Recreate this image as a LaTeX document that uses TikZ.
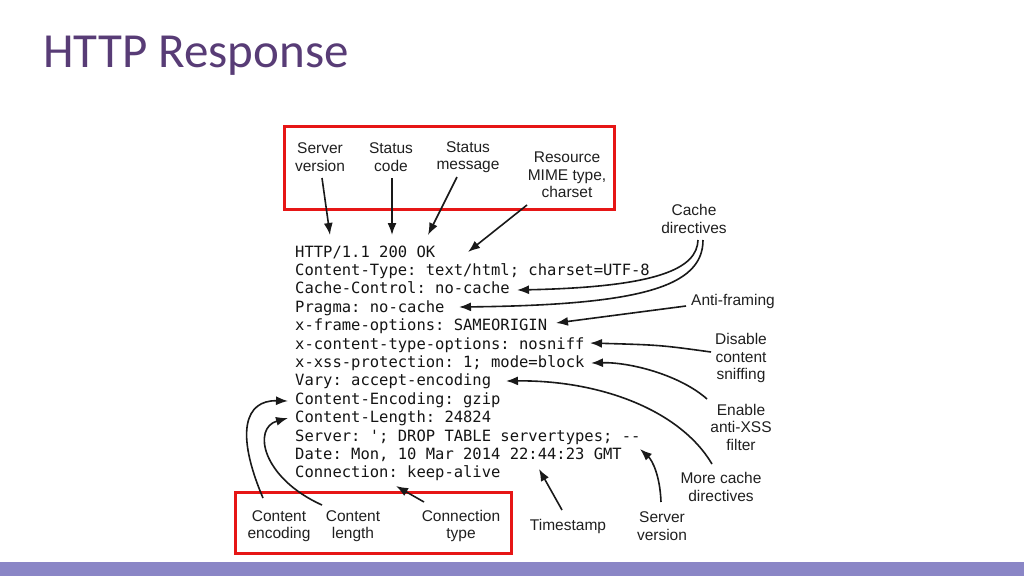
\documentclass[tikz,border=0pt]{standalone}
\usepackage{fontspec}
\setmainfont{Liberation Sans}
\newfontfamily\titlefont{Carlito}
\newfontfamily\codefont{DejaVu Sans Mono}[Ligatures=TeXOff]
\usetikzlibrary{arrows.meta}
\definecolor{titlecol}{RGB}{88,60,118}
\definecolor{boxred}{RGB}{230,22,22}
\definecolor{band}{RGB}{138,134,198}
\begin{document}
\begin{tikzpicture}[x=1pt,y=-1pt,
  lbl/.style={align=center,font=\fontsize{15.5}{17.5}\selectfont,text=black!88,inner sep=0pt},
  code/.style={anchor=base west,font=\codefont\frenchspacing\fontsize{15.5}{18}\selectfont,inner sep=0pt,text=black!92},
  arr/.style={-{Latex[length=12pt,width=9pt]},line width=1.6pt,black!90},
  redbox/.style={draw=boxred,line width=3pt}]
\useasboundingbox (0,0) rectangle (1024,576);
\fill[band] (0,562) rectangle (1024,576);
\node[anchor=base west,inner sep=0pt,font=\titlefont\fontsize{49}{55}\selectfont,text=titlecol] (title) at (43,67) {HTTP Response};

% red boxes
\draw[redbox] (284,126) rectangle (614,209);
\draw[redbox] (235,492) rectangle (511,553);

% code lines
\node[code] (l1) at (295,257) {HTTP/1.1 200 OK};
\node[code] (l2) at (295,275.4) {Content-Type: text/html; charset=UTF-8};
\node[code] (l3) at (295,293.8) {Cache-Control: no-cache};
\node[code] (l4) at (295,312.2) {Pragma: no-cache};
\node[code] (l5) at (295,330.6) {x-frame-options: SAMEORIGIN};
\node[code] (l6) at (295,349) {x-content-type-options: nosniff};
\node[code] (l7) at (295,367.4) {x-xss-protection: 1; mode=block};
\node[code] (l8) at (295,385.8) {Vary: accept-encoding};
\node[code] (l9) at (295,404.2) {Content-Encoding: gzip};
\node[code] (l10) at (295,422.6) {Content-Length: 24824};
\node[code] (l11) at (295,441) {Server: '; DROP TABLE servertypes; --};
\node[code] (l12) at (295,459.4) {Date: Mon, 10 Mar 2014 22:44:23 GMT};
\node[code] (l13) at (295,477.8) {Connection: keep-alive};

% labels
\node[lbl] (sv) at (320,157) {Server\\version};
\node[lbl] (sc) at (391,157) {Status\\code};
\node[lbl] (sm) at (468,157) {Status\\message};
\node[lbl] (mime) at (567,175) {Resource\\MIME type,\\charset};
\node[lbl] (cache) at (694,219) {Cache\\directives};
\node[lbl] (anti) at (733,301) {Anti-framing};
\node[lbl] (dis) at (741,358) {Disable\\content\\sniffing};
\node[lbl] (ena) at (741,427) {Enable\\anti-XSS\\filter};
\node[lbl] (more) at (721,487) {More cache\\directives};
\node[lbl] (sv2) at (662,526) {Server\\version};
\node[lbl] (ts) at (568,526) {Timestamp};
\node[lbl] (ct) at (461,526) {Connection\\type};
\node[lbl] (cl) at (353,526) {Content\\length};
\node[lbl] (ce) at (279,526) {Content\\encoding};

% arrow coordinates
\coordinate (s1) at (322,178); \coordinate (t1) at (330,235);
\coordinate (s2) at (392,178); \coordinate (t2) at (392,235);
\coordinate (s3) at (457,177); \coordinate (t3) at (428,235);
\coordinate (s4) at (527,205); \coordinate (t4) at (468,252);
\coordinate (s5) at (698,240); \coordinate (t5) at (517,290);
\coordinate (s6) at (703,240); \coordinate (t6) at (459,307);
\coordinate (s7) at (686,306); \coordinate (t7) at (556,323);
\coordinate (s8) at (711,352); \coordinate (t8) at (590,343);
\coordinate (s9) at (707,399); \coordinate (t9) at (591,363);
\coordinate (s10) at (712,464); \coordinate (t10) at (506,381);
\coordinate (s11) at (661,502); \coordinate (t11) at (640,449);
\coordinate (s12) at (562,510); \coordinate (t12) at (539,469);
\coordinate (s13) at (424,502); \coordinate (t13) at (396,486);
\coordinate (s14) at (322,505); \coordinate (t14) at (288,418);
\coordinate (s15) at (263,498); \coordinate (t15) at (288,401);

\draw[arr] (s1) -- (t1);
\draw[arr] (s2) -- (t2);
\draw[arr] (s3) -- (t3);
\draw[arr] (s4) -- (t4);
\draw[arr] (s5) .. controls (697,268) and (660,287) .. (t5);
\draw[arr] (s6) .. controls (703,287) and (640,305) .. (t6);
\draw[arr] (s7) .. controls (640,312) .. (t7);
\draw[arr] (s8) .. controls (660,345) .. (t8);
\draw[arr] (s9) .. controls (680,375) and (630,362) .. (t9);
\draw[arr] (s10) .. controls (680,410) and (600,380) .. (t10);
\draw[arr] (s11) .. controls (660,475) and (652,460) .. (t11);
\draw[arr] (s12) -- (t12);
\draw[arr] (s13) -- (t13);
\draw[arr] (s14) .. controls (262,478) and (252,428) .. (t14);
\draw[arr] (s15) .. controls (235,432) and (245,400) .. (t15);
\end{tikzpicture}
\end{document}
